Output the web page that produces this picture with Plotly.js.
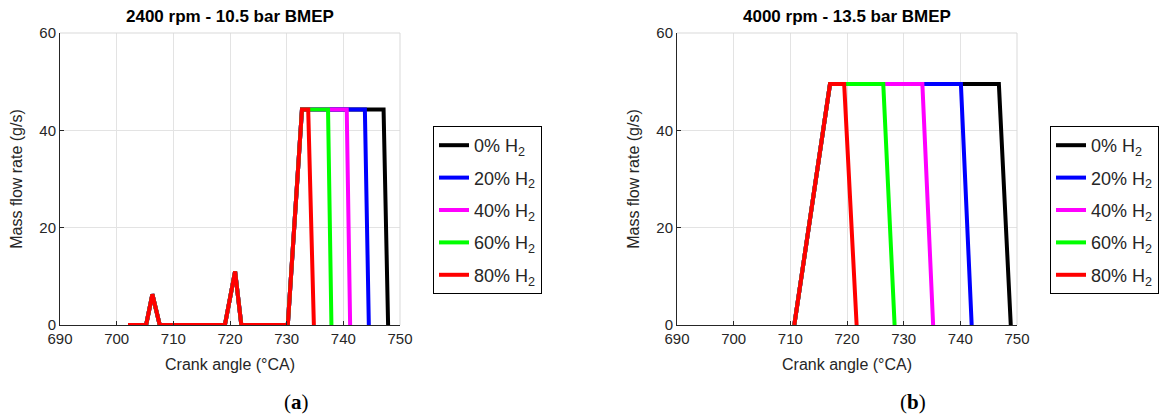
<!DOCTYPE html>
<html>
<head>
<meta charset="utf-8">
<script src="https://cdn.plot.ly/plotly-3.0.1.min.js"></script>
<style>html,body{margin:0;padding:0;background:#fff;}#chart{width:1162px;height:416px;}</style>
</head>
<body>
<div id="chart"></div>
<script>
// ---- Data ----
const seriesNames = ['0% H<sub>2</sub>', '20% H<sub>2</sub>', '40% H<sub>2</sub>', '60% H<sub>2</sub>', '80% H<sub>2</sub>'];
const seriesColors = ['#000000', '#0000ff', '#ff00ff', '#00ff00', '#ff0000'];

// (a) 2400 rpm - 10.5 bar BMEP : crank angle (°CA) / mass flow rate (g/s)
const angleA_0  = [702, 705.2, 706.3, 707.6, 719.1, 720.9, 722.0, 730.2, 732.7, 747.1, 747.9];
const flowA_0   = [0, 0, 6.3, 0, 0, 11, 0, 0, 44.3, 44.3, 0];
const angleA_20 = [702, 705.2, 706.3, 707.6, 719.1, 720.9, 722.0, 730.2, 732.7, 743.8, 744.5];
const flowA_20  = [0, 0, 6.3, 0, 0, 11, 0, 0, 44.3, 44.3, 0];
const angleA_40 = [702, 705.2, 706.3, 707.6, 719.1, 720.9, 722.0, 730.2, 732.7, 740.6, 741.2];
const flowA_40  = [0, 0, 6.3, 0, 0, 11, 0, 0, 44.3, 44.3, 0];
const angleA_60 = [702, 705.2, 706.3, 707.6, 719.1, 720.9, 722.0, 730.2, 732.7, 737.3, 737.9];
const flowA_60  = [0, 0, 6.3, 0, 0, 11, 0, 0, 44.3, 44.3, 0];
const angleA_80 = [702, 705.2, 706.3, 707.6, 719.1, 720.9, 722.0, 730.2, 732.7, 733.8, 734.8];
const flowA_80  = [0, 0, 6.3, 0, 0, 11, 0, 0, 44.3, 44.3, 0];

// (b) 4000 rpm - 13.5 bar BMEP
const angleB_0  = [710.7, 717.0, 746.8, 748.9];
const flowB_0   = [0, 49.5, 49.5, 0];
const angleB_20 = [710.7, 717.0, 740.1, 742.0];
const flowB_20  = [0, 49.5, 49.5, 0];
const angleB_40 = [710.7, 717.0, 733.3, 735.2];
const flowB_40  = [0, 49.5, 49.5, 0];
const angleB_60 = [710.7, 717.0, 726.4, 728.4];
const flowB_60  = [0, 49.5, 49.5, 0];
const angleB_80 = [710.7, 717.0, 719.5, 721.7];
const flowB_80  = [0, 49.5, 49.5, 0];

const xTicks = [690, 700, 710, 720, 730, 740, 750];
const yTicks = [0, 20, 40, 60];
const titleA = '2400 rpm - 10.5 bar BMEP';
const titleB = '4000 rpm - 13.5 bar BMEP';
const xLabel = 'Crank angle (°CA)';
const yLabel = 'Mass flow rate (g/s)';

// ---- Build ----
const dataA = [[angleA_0, flowA_0], [angleA_20, flowA_20], [angleA_40, flowA_40], [angleA_60, flowA_60], [angleA_80, flowA_80]];
const dataB = [[angleB_0, flowB_0], [angleB_20, flowB_20], [angleB_40, flowB_40], [angleB_60, flowB_60], [angleB_80, flowB_80]];

const traces = [];
dataA.forEach((d, i) => traces.push({
  x: d[0], y: d[1], type: 'scatter', mode: 'lines', name: seriesNames[i],
  line: {color: seriesColors[i], width: 4, shape: 'linear'},
  xaxis: 'x', yaxis: 'y', legend: 'legend', legendgroup: 'a' + i
}));
dataB.forEach((d, i) => traces.push({
  x: d[0], y: d[1], type: 'scatter', mode: 'lines', name: seriesNames[i],
  line: {color: seriesColors[i], width: 4, shape: 'linear'},
  xaxis: 'x2', yaxis: 'y2', legend: 'legend2', legendgroup: 'b' + i
}));

const W = 1162, H = 416;
const px = v => v / W, py = v => (H - v) / H;
const yBottom = 325, yTop = 33;
const axA = [60, 400], axB = [677, 1017];
const tickFont = {family: 'Liberation Sans, Arial, sans-serif', size: 15, color: '#262626'};
const labelFont = {family: 'Liberation Sans, Arial, sans-serif', size: 16, color: '#262626'};

function xaxis(dom) {
  return {
    domain: [px(dom[0]), px(dom[1])], range: [690, 750], tickvals: xTicks,
    showgrid: true, gridcolor: '#e3e3e3', gridwidth: 1, zeroline: false,
    showline: true, linecolor: '#262626', linewidth: 1, mirror: false,
    ticks: 'inside', ticklen: 4, tickcolor: '#262626', tickfont: tickFont,
    title: {text: xLabel, font: labelFont, standoff: 12}, fixedrange: true
  };
}
function yaxis(anchor) {
  return {
    domain: [py(yBottom), py(yTop)], range: [0, 60], tickvals: yTicks, anchor: anchor,
    showgrid: true, gridcolor: '#e3e3e3', gridwidth: 1, zeroline: false,
    showline: true, linecolor: '#262626', linewidth: 1,
    ticks: 'inside', ticklen: 4, tickcolor: '#262626', tickfont: tickFont,
    title: {text: yLabel, font: labelFont, standoff: 12}, fixedrange: true
  };
}
const legendCommon = {
  bordercolor: '#000000', borderwidth: 1, bgcolor: '#ffffff',
  font: {family: 'Liberation Sans, Arial, sans-serif', size: 18, color: '#262626'},
  xanchor: 'left', yanchor: 'top', tracegroupgap: 6, itemwidth: 30
};

const layout = {
  width: W, height: H, margin: {l: 0, r: 0, t: 0, b: 0},
  paper_bgcolor: '#ffffff', plot_bgcolor: '#ffffff', showlegend: true,
  xaxis: Object.assign(xaxis(axA), {anchor: 'y'}),
  yaxis: yaxis('x'),
  xaxis2: Object.assign(xaxis(axB), {anchor: 'y2'}),
  yaxis2: yaxis('x2'),
  legend: Object.assign({x: px(433), y: py(126)}, legendCommon),
  legend2: Object.assign({x: px(1050), y: py(126)}, legendCommon),
  shapes: [
    {type: 'line', xref: 'paper', yref: 'paper', x0: px(axA[0]), x1: px(axA[1]), y0: py(yTop), y1: py(yTop), line: {color: '#d9d9d9', width: 1}},
    {type: 'line', xref: 'paper', yref: 'paper', x0: px(axA[1]), x1: px(axA[1]), y0: py(yTop), y1: py(yBottom), line: {color: '#d9d9d9', width: 1}},
    {type: 'line', xref: 'paper', yref: 'paper', x0: px(axB[0]), x1: px(axB[1]), y0: py(yTop), y1: py(yTop), line: {color: '#d9d9d9', width: 1}},
    {type: 'line', xref: 'paper', yref: 'paper', x0: px(axB[1]), x1: px(axB[1]), y0: py(yTop), y1: py(yBottom), line: {color: '#d9d9d9', width: 1}}
  ],
  annotations: [
    {text: '<b>' + titleA + '</b>', xref: 'paper', yref: 'paper', x: px(230), y: py(17), xanchor: 'center', yanchor: 'middle', showarrow: false,
     font: {family: 'Liberation Sans, Arial, sans-serif', size: 17, color: '#000000'}},
    {text: '<b>' + titleB + '</b>', xref: 'paper', yref: 'paper', x: px(847), y: py(17), xanchor: 'center', yanchor: 'middle', showarrow: false,
     font: {family: 'Liberation Sans, Arial, sans-serif', size: 17, color: '#000000'}},
    {text: '(<b>a</b>)', xref: 'paper', yref: 'paper', x: px(296), y: py(402), xanchor: 'center', yanchor: 'middle', showarrow: false,
     font: {family: 'Liberation Serif, Times New Roman, serif', size: 21, color: '#000000'}},
    {text: '(<b>b</b>)', xref: 'paper', yref: 'paper', x: px(913), y: py(402), xanchor: 'center', yanchor: 'middle', showarrow: false,
     font: {family: 'Liberation Serif, Times New Roman, serif', size: 21, color: '#000000'}}
  ]
};

Plotly.newPlot('chart', traces, layout, {staticPlot: true, displayModeBar: false});
</script>
</body>
</html>
